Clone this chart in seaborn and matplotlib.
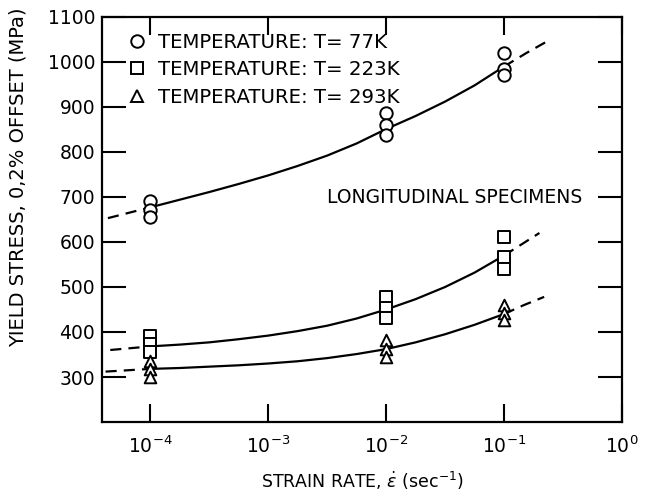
import numpy as np
import pandas as pd
import matplotlib
matplotlib.use("Agg")
import matplotlib.pyplot as plt
from matplotlib.lines import Line2D
import seaborn as sns

# ---- data ----
temps = ["77K", "223K", "293K"]
markers = {"77K": "o", "223K": "s", "293K": "^"}

pt_rate = [1e-4, 1e-4, 1e-4, 1e-2, 1e-2, 1e-2, 1e-1, 1e-1, 1e-1]
pt_77 = [690, 672, 655, 887, 860, 838, 1020, 985, 970]
pt_223 = [390, 373, 356, 478, 453, 431, 611, 567, 540]
pt_293 = [336, 318, 301, 382, 362, 344, 460, 442, 427]

# fitted curves (log10 strain rate, stress)
crv_x_77 = [-4.36, -4.0, -3.75, -3.5, -3.25, -3.0, -2.75, -2.5, -2.25, -2.0,
            -1.75, -1.5, -1.25, -1.0, -0.81, -0.62]
crv_y_77 = [653, 677, 694, 711, 729, 748, 769, 792, 819, 851,
            880, 912, 948, 990, 1020, 1048]
crv_x_223 = [-4.34, -4.0, -3.75, -3.5, -3.25, -3.0, -2.75, -2.5, -2.25, -2.0,
             -1.75, -1.5, -1.25, -1.0, -0.85, -0.70]
crv_y_223 = [360, 368, 372, 377, 384, 392, 402, 414, 430, 450,
             473, 500, 532, 570, 595, 620]
crv_x_293 = [-4.38, -4.0, -3.75, -3.5, -3.25, -3.0, -2.75, -2.5, -2.25, -2.0,
             -1.75, -1.5, -1.25, -1.0, -0.83, -0.66]
crv_y_293 = [312, 318, 320, 323, 326, 330, 335, 342, 351, 362,
             377, 395, 416, 440, 460, 478]

y_ticks = [300, 400, 500, 600, 700, 800, 900, 1000, 1100]
x_ticks = [1e-4, 1e-3, 1e-2, 1e-1, 1e0]
x_labels = [r"$10^{-4}$", r"$10^{-3}$", r"$10^{-2}$", r"$10^{-1}$", r"$10^{0}$"]
legend_labels = ["TEMPERATURE: T= 77K", "TEMPERATURE: T= 223K", "TEMPERATURE: T= 293K"]

# ---- build tables ----
pts = pd.DataFrame({
    "rate": pt_rate * 3,
    "stress": pt_77 + pt_223 + pt_293,
    "temp": ["77K"] * 9 + ["223K"] * 9 + ["293K"] * 9,
})

rows = []
for t, xs, ys in [("77K", crv_x_77, crv_y_77), ("223K", crv_x_223, crv_y_223),
                  ("293K", crv_x_293, crv_y_293)]:
    for lx, y in zip(xs, ys):
        if lx <= -4.0:
            rows.append((10 ** lx, y, t, "L"))
        if -4.0 <= lx <= -1.0:
            rows.append((10 ** lx, y, t, "M"))
        if lx >= -1.0:
            rows.append((10 ** lx, y, t, "R"))
crv = pd.DataFrame(rows, columns=["rate", "stress", "temp", "seg"])

# ---- plot ----
sns.set_style("ticks")
plt.rcParams["font.family"] = ["DejaVu Sans"]
for k in ["text.color", "axes.labelcolor", "xtick.color", "ytick.color", "axes.edgecolor"]:
    plt.rcParams[k] = "black"

fig = plt.figure(figsize=(6.54, 4.99), dpi=100)
ax = fig.add_axes([0.156, 0.1543, 0.795, 0.8117])

for (t, seg), g in crv.groupby(["temp", "seg"]):
    sns.lineplot(data=g, x="rate", y="stress", ax=ax, color="black",
                 lw=1.6, sort=True, estimator=None,
                 linestyle="-" if seg == "M" else (0, (5, 3.2)), zorder=2)

sizes = {"o": 80, "s": 72, "^": 70}
for t in temps:
    g = pts[pts.temp == t]
    ax.scatter(g["rate"], g["stress"], marker=markers[t], s=sizes[markers[t]],
               facecolor="white", edgecolor="black", linewidths=1.4, zorder=3)

ax.set_xscale("log")
ax.set_xlim(10 ** -4.41, 10 ** 0.0)
ax.set_ylim(200, 1100)
ax.set_xticks(x_ticks)
ax.set_xticklabels(x_labels)
ax.xaxis.set_minor_locator(matplotlib.ticker.NullLocator())
ax.set_yticks(y_ticks)
ax.set_yticklabels([str(v) for v in y_ticks])
ax.tick_params(axis="y", direction="in", length=17, width=1.5, right=True,
               labelsize=13.5, pad=5)
ax.tick_params(axis="x", direction="in", length=13, width=1.5, top=True,
               labelsize=13.5, pad=10)
for s in ax.spines.values():
    s.set_visible(True)
    s.set_linewidth(1.6)
    s.set_color("black")

ax.set_xlabel(r"STRAIN RATE, $\dot{\epsilon}$ (sec$^{-1}$)", fontsize=12.5, labelpad=9)
ax.set_ylabel("")
fig.text(0.027, 0.645, "YIELD STRESS, 0,2% OFFSET (MPa)", rotation=90,
         ha="center", va="center", fontsize=14)

ax.text(10 ** -2.5, 698, "LONGITUDINAL SPECIMENS", fontsize=13.5, va="center", ha="left")

handles = [Line2D([], [], ls="none", marker=markers[t], markersize=9 if t == "77K" else 8.5,
                  markerfacecolor="white", markeredgecolor="black", markeredgewidth=1.4)
           for t in temps]
ax.legend(handles, legend_labels, loc="upper left", bbox_to_anchor=(127 / 654, 1 - 33 / 499),
          bbox_transform=fig.transFigure, frameon=False, fontsize=14.2,
          handlelength=1.0, handletextpad=0.55, labelspacing=0.42, borderpad=0,
          borderaxespad=0)

fig.savefig("out.png", dpi=100)
